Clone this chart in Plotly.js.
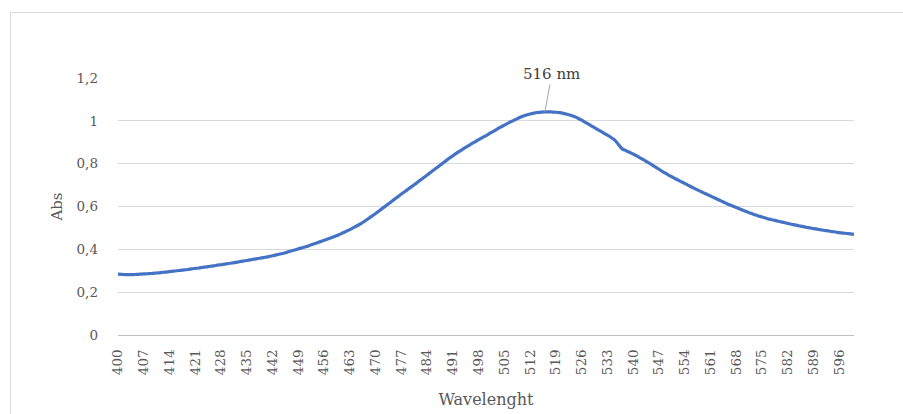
<!DOCTYPE html>
<html>
<head>
<meta charset="utf-8">
<script src="https://cdn.plot.ly/plotly-3.0.1.min.js"></script>
<style>
  html, body { margin: 0; padding: 0; background: #ffffff; overflow: hidden; }
  #wrap { position: relative; width: 903px; height: 414px; }
  #frame { position: absolute; left: 10px; top: 12px; width: 1000px; height: 500px; border: 1px solid #d9d9d9; box-sizing: border-box; }
  #chart { position: absolute; left: 0; top: 0; width: 903px; height: 414px; }
</style>
</head>
<body>
<div id="wrap">
  <div id="frame"></div>
  <div id="chart"></div>
</div>
<script>
// Wavelength categories (nm)
const wavelengths = [
  400,401,402,403,404,405,406,407,408,409,410,411,412,413,414,415,416,417,418,419,
  420,421,422,423,424,425,426,427,428,429,430,431,432,433,434,435,436,437,438,439,
  440,441,442,443,444,445,446,447,448,449,450,451,452,453,454,455,456,457,458,459,
  460,461,462,463,464,465,466,467,468,469,470,471,472,473,474,475,476,477,478,479,
  480,481,482,483,484,485,486,487,488,489,490,491,492,493,494,495,496,497,498,499,
  500,501,502,503,504,505,506,507,508,509,510,511,512,513,514,515,516,517,518,519,
  520,521,522,523,524,525,526,527,528,529,530,531,532,533,534,535,536,537,538,539,
  540,541,542,543,544,545,546,547,548,549,550,551,552,553,554,555,556,557,558,559,
  560,561,562,563,564,565,566,567,568,569,570,571,572,573,574,575,576,577,578,579,
  580,581,582,583,584,585,586,587,588,589,590,591,592,593,594,595,596,597,598,599,
  600
];

// Absorbance values
const absorbance = [
  0.284,0.283,0.282,0.282,0.282,0.283,0.284,0.285,0.286,0.287,
  0.289,0.290,0.292,0.294,0.296,0.298,0.300,0.302,0.304,0.306,
  0.309,0.311,0.313,0.316,0.318,0.321,0.323,0.326,0.328,0.331,
  0.334,0.336,0.339,0.342,0.345,0.348,0.351,0.354,0.357,0.360,
  0.363,0.366,0.370,0.374,0.378,0.382,0.387,0.392,0.397,0.402,
  0.407,0.412,0.418,0.424,0.430,0.436,0.442,0.448,0.454,0.461,
  0.468,0.476,0.484,0.492,0.501,0.510,0.520,0.531,0.543,0.555,
  0.567,0.580,0.593,0.606,0.619,0.632,0.645,0.658,0.670,0.683,
  0.695,0.708,0.721,0.734,0.747,0.760,0.773,0.786,0.799,0.812,
  0.825,0.837,0.849,0.860,0.871,0.882,0.892,0.902,0.912,0.922,
  0.931,0.941,0.951,0.961,0.971,0.980,0.989,0.998,1.006,1.014,
  1.021,1.027,1.032,1.036,1.039,1.041,1.042,1.042,1.041,1.040,
  1.038,1.035,1.031,1.026,1.020,1.012,1.003,0.993,0.983,0.973,
  0.963,0.953,0.943,0.933,0.922,0.910,0.889,0.869,0.861,0.853,
  0.845,0.836,0.826,0.816,0.806,0.796,0.785,0.774,0.763,0.753,
  0.743,0.734,0.725,0.716,0.708,0.699,0.690,0.681,0.673,0.665,
  0.657,0.649,0.641,0.633,0.625,0.617,0.609,0.602,0.595,0.588,
  0.581,0.574,0.568,0.562,0.556,0.551,0.546,0.541,0.537,0.533,
  0.529,0.525,0.521,0.517,0.514,0.510,0.507,0.503,0.500,0.497,
  0.494,0.491,0.488,0.486,0.483,0.481,0.478,0.476,0.474,0.472,
  0.470
];

// Tick labels shown on the category axis
const xTickLabels = [400,407,414,421,428,435,442,449,456,463,470,477,484,491,498,
                     505,512,519,526,533,540,547,554,561,568,575,582,589,596];
const yTickVals = [0, 0.2, 0.4, 0.6, 0.8, 1, 1.2];
const yTickText = ['0', '0,2', '0,4', '0,6', '0,8', '1', '1,2'];

const peakWavelength = 516;
const peakLabel = '516 nm';

const FONT = '"Palatino Linotype", "Book Antiqua", Palatino, "DejaVu Serif", serif';

const peakIdx = wavelengths.indexOf(peakWavelength);

const trace = {
  x: wavelengths,
  y: absorbance,
  type: 'scatter',
  mode: 'lines',
  line: { color: '#4472C4', width: 3.2, shape: 'spline', smoothing: 1 },
  hoverinfo: 'x+y'
};

const layout = {
  width: 903,
  height: 414,
  margin: { l: 118, r: 49, t: 78, b: 79 },
  paper_bgcolor: 'rgba(0,0,0,0)',
  plot_bgcolor: 'rgba(0,0,0,0)',
  font: { family: FONT, size: 13.5, color: '#595959' },
  showlegend: false,
  xaxis: {
    type: 'linear',
    range: [400, 600],
    tickmode: 'array',
    tickvals: xTickLabels,
    ticktext: xTickLabels.map(String),
    tickangle: -90,
    showgrid: false,
    zeroline: false,
    showline: true,
    linecolor: '#bfbfbf',
    linewidth: 1,
    ticks: '',
    ticklabelstandoff: 8,
    tickfont: { family: FONT, size: 13.5, color: '#595959' },
    title: { text: 'Wavelenght', font: { family: FONT, size: 16, color: '#595959' }, standoff: 19 },
    automargin: false
  },
  yaxis: {
    range: [0, 1.2],
    tickmode: 'array',
    tickvals: yTickVals,
    ticktext: yTickText,
    showgrid: true,
    gridcolor: '#d9d9d9',
    gridwidth: 1,
    zeroline: false,
    showline: false,
    ticks: '',
    ticklabelstandoff: 19,
    tickfont: { family: FONT, size: 13.5, color: '#595959' },
    title: { text: 'Abs', font: { family: FONT, size: 15, color: '#595959' }, standoff: 10 },
    automargin: false
  },
  annotations: [{
    x: wavelengths[peakIdx],
    y: absorbance[peakIdx],
    xref: 'x', yref: 'y',
    text: peakLabel,
    showarrow: true,
    arrowhead: 0,
    arrowwidth: 1,
    arrowcolor: '#a6a6a6',
    ax: 7,
    ay: -38,
    standoff: 0,
    font: { family: FONT, size: 15, color: '#404040' }
  }]
};

Plotly.newPlot('chart', [trace], layout, { displayModeBar: false, staticPlot: true });
</script>
</body>
</html>
